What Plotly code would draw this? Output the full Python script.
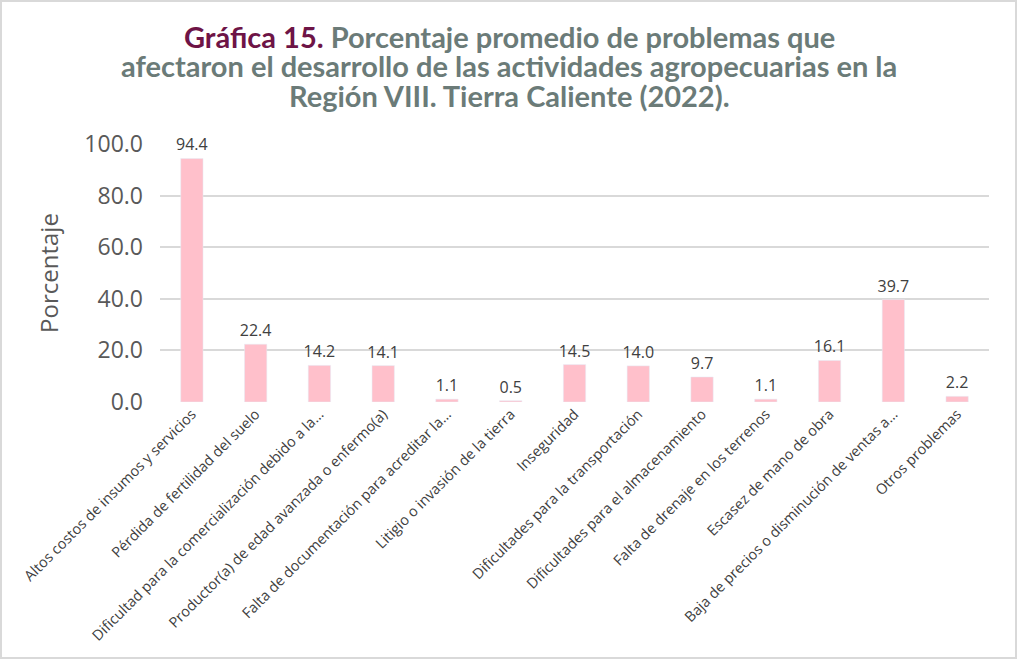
import plotly.graph_objects as go

categories = [
    "Altos costos de insumos y servicios",
    "Pérdida de fertilidad del suelo",
    "Dificultad para la comercialización debido a la…",
    "Productor(a) de edad avanzada o enfermo(a)",
    "Falta de documentación para acreditar la…",
    "Litigio o invasión de la tierra",
    "Inseguridad",
    "Dificultades para la transportación",
    "Dificultades para el almacenamiento",
    "Falta de drenaje en los terrenos",
    "Escasez de mano de obra",
    "Baja de precios o disminución de ventas a…",
    "Otros problemas",
]
values = [94.4, 22.4, 14.2, 14.1, 1.1, 0.5, 14.5, 14.0, 9.7, 1.1, 16.1, 39.7, 2.2]
y_ticks = [0, 20, 40, 60, 80, 100]

title_lines = [
    "<span style='color:#6E1446'>Gráfica 15.</span> Porcentaje promedio de problemas que",
    "afectaron el desarrollo de las actividades agropecuarias en la",
    "Región VIII. Tierra Caliente (2022).",
]

W, H = 1018, 660
L, R, T, B = 160, 29, 144, 258
PW, PH = W - L - R, H - T - B

FONT = "Open Sans"
fig = go.Figure(go.Bar(
    x=categories, y=values,
    marker_color="#FFC0CB",
    text=[f"{v:.1f}" for v in values],
    textposition="outside",
    constraintext="none",
    textfont=dict(family=FONT, size=16, color="#404040"),
    cliponaxis=False,
))

title_py = [37, 66, 96]
annotations = [
    dict(text=f"<b>{t}</b>", xref="paper", yref="paper", x=((W / 2) - L) / PW,
         y=(H - B - py) / PH, xanchor="center", yanchor="middle", showarrow=False,
         font=dict(family="Lato", size=29, color="#6B7B78"))
    for t, py in zip(title_lines, title_py)
]

fig.update_layout(
    width=W, height=H,
    paper_bgcolor="white", plot_bgcolor="white",
    margin=dict(l=L, r=R, t=T, b=B, autoexpand=False),
    bargap=0.65,
    showlegend=False,
    annotations=annotations,
    xaxis=dict(tickangle=-45, tickfont=dict(family=FONT, size=14.5, color="#404040"),
               showline=False, ticks="", automargin=False),
    yaxis=dict(range=[0, 100], tickvals=y_ticks, tickformat=".1f",
               tickfont=dict(family=FONT, size=23, color="#595959"),
               ticklabelstandoff=16, automargin=False,
               gridcolor="#D9D9D9", gridwidth=1.5, zeroline=False,
               title=dict(text="Porcentaje", font=dict(family=FONT, size=24, color="#595959"), standoff=18)),
    shapes=[dict(type="rect", xref="paper", yref="paper",
                 x0=(1 - L) / PW, x1=(W - 2 - L) / PW,
                 y0=(H - B - (H - 2)) / PH, y1=(H - B - 1) / PH,
                 line=dict(color="#D9D9D9", width=2))],
)

fig.write_html("out.html", config={"displayModeBar": False},
               post_script="document.body.style.margin='0px';")
